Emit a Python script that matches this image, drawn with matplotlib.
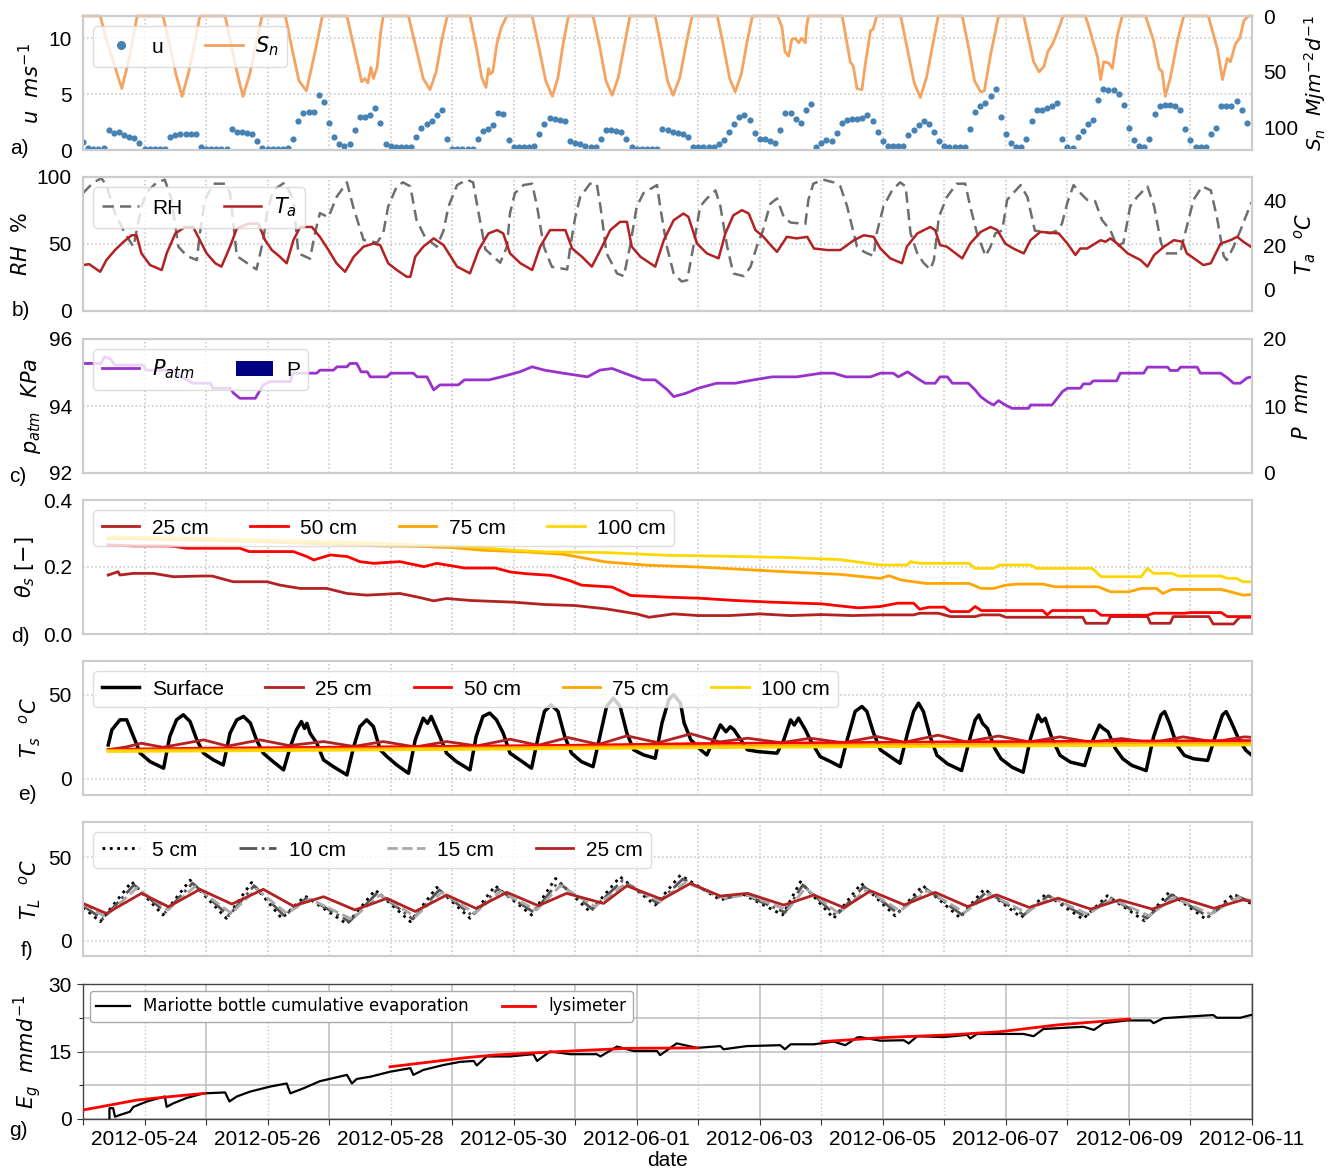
import numpy as np
import matplotlib
matplotlib.use("Agg")
import matplotlib.pyplot as plt
import matplotlib.dates as mdates
from matplotlib.lines import Line2D
from matplotlib.patches import Patch
from matplotlib.ticker import FixedLocator, MultipleLocator, FuncFormatter, FormatStrFormatter
from datetime import datetime

# ------------------------------------------------------------------
# Data: times are in days since 2012-05-23 00:00
# ------------------------------------------------------------------
START = mdates.date2num(datetime(2012, 5, 23))
N_DAYS = 19

# wind speed u [m/s], one value every 2 hours
u_2h = [
    0.7, 0.2, 0.1, 0.1, 0.2, 1.8, 1.5, 1.6, 1.3, 1.2, 1.1, 0.6,
    0.1, 0.1, 0.1, 0.1, 0.1, 1.2, 1.3, 1.4, 1.4, 1.4, 1.4, 0.3,
    0.1, 0.1, 0.1, 0.1, 0.1, 1.9, 1.6, 1.6, 1.5, 1.4, 0.8, 0.2,
    0.1, 0.1, 0.1, 0.1, 0.2, 1.0, 2.6, 3.3, 3.4, 3.4, 4.9, 4.3,
    2.4, 1.2, 0.5, 0.4, 0.5, 1.8, 3.0, 3.0, 3.1, 3.8, 2.4, 0.5,
    0.4, 0.3, 0.3, 0.3, 0.3, 1.2, 2.0, 2.3, 2.6, 3.1, 3.6, 1.0,
    0.1, 0.1, 0.1, 0.1, 0.1, 1.0, 1.7, 1.9, 2.2, 3.3, 3.2, 0.9,
    0.3, 0.3, 0.3, 0.3, 0.4, 1.4, 2.3, 2.9, 2.8, 2.7, 2.6, 0.8,
    0.6, 0.5, 0.4, 0.3, 0.3, 1.0, 1.8, 1.8, 1.7, 1.6, 1.0, 0.3,
    0.1, 0.1, 0.1, 0.1, 0.1, 1.9, 1.8, 1.6, 1.5, 1.4, 1.2, 0.3,
    0.3, 0.3, 0.3, 0.3, 0.5, 0.9, 1.6, 2.3, 3.0, 3.1, 2.7, 1.5,
    1.0, 1.0, 0.8, 0.6, 1.8, 3.3, 3.3, 2.8, 2.4, 3.6, 4.1, 0.3,
    0.6, 0.9, 0.8, 1.5, 2.4, 2.7, 2.8, 2.8, 2.9, 3.1, 2.6, 1.6,
    0.8, 0.4, 0.4, 0.4, 0.4, 1.3, 1.8, 2.2, 2.6, 2.3, 1.6, 0.8,
    0.4, 0.3, 0.3, 0.3, 0.3, 1.9, 3.4, 3.9, 4.2, 4.8, 5.5, 3.0,
    1.4, 0.6, 0.3, 0.3, 1.0, 2.6, 3.6, 3.6, 3.8, 3.9, 4.2, 1.0,
    0.3, 0.2, 1.2, 1.7, 2.3, 2.7, 4.5, 5.5, 5.4, 5.4, 5.0, 4.0,
    2.0, 0.9, 0.4, 0.3, 1.0, 3.2, 3.9, 4.0, 4.0, 3.9, 3.6, 1.9,
    0.9, 0.3, 0.3, 0.3, 1.4, 2.0, 3.9, 3.9, 3.9, 4.4, 3.6, 2.4,
]
U_STEP_H = 2

# net shortwave radiation S_n [MJ m-2 d-1]  (time, value)
s_n = [
    (0.00, 0), (0.28, 0), (0.39, 23), (0.50, 42), (0.63, 65), (0.75, 38), (0.88, 0),
    (1.30, 0), (1.41, 26), (1.51, 52), (1.61, 72), (1.71, 52), (1.81, 26), (1.90, 0),
    (2.31, 0), (2.41, 26), (2.51, 52), (2.60, 72), (2.71, 52), (2.81, 26), (2.91, 0),
    (3.29, 0), (3.40, 30), (3.51, 58), (3.63, 67), (3.72, 45), (3.81, 22), (3.89, 0),
    (4.29, 0), (4.42, 32), (4.53, 59), (4.58, 56), (4.63, 60), (4.68, 46), (4.72, 56),
    (4.78, 46), (4.84, 14), (4.88, 0),
    (5.29, 0), (5.41, 28), (5.53, 56), (5.64, 66), (5.74, 50), (5.83, 22), (5.92, 0),
    (6.29, 0), (6.40, 30), (6.48, 55), (6.55, 64), (6.59, 47), (6.62, 52), (6.66, 50),
    (6.73, 24), (6.80, 10), (6.89, 0),
    (7.30, 0), (7.41, 28), (7.52, 58), (7.63, 72), (7.72, 55), (7.80, 26), (7.89, 0),
    (8.29, 0), (8.40, 28), (8.50, 58), (8.60, 71), (8.70, 55), (8.80, 26), (8.89, 0),
    (9.30, 0), (9.40, 28), (9.50, 58), (9.59, 71), (9.70, 55), (9.80, 26), (9.90, 0),
    (10.31, 0), (10.41, 27), (10.51, 56), (10.60, 68), (10.70, 52), (10.79, 24), (10.88, 0),
    (11.29, 0), (11.36, 10), (11.41, 32), (11.47, 36), (11.52, 21), (11.58, 20), (11.63, 24),
    (11.68, 20), (11.74, 24), (11.76, 10), (11.79, 0),
    (12.34, 0), (12.47, 41), (12.52, 45), (12.58, 65), (12.66, 66), (12.71, 45), (12.80, 13),
    (12.84, 12), (12.90, 0),
    (13.29, 0), (13.40, 30), (13.51, 60), (13.61, 73), (13.71, 55), (13.81, 26), (13.90, 0),
    (14.29, 0), (14.40, 30), (14.49, 58), (14.59, 68), (14.65, 67), (14.75, 35), (14.88, 0),
    (15.29, 0), (15.36, 18), (15.45, 41), (15.54, 50), (15.62, 45), (15.68, 32), (15.76, 25),
    (15.84, 14), (15.93, 0),
    (16.29, 0), (16.34, 8), (16.49, 37), (16.54, 57), (16.59, 41), (16.67, 42), (16.73, 47),
    (16.81, 18), (16.89, 0),
    (17.27, 0), (17.40, 22), (17.49, 47), (17.54, 50), (17.59, 72), (17.67, 56), (17.79, 22),
    (17.89, 0),
    (18.29, 0), (18.44, 30), (18.52, 57), (18.60, 38), (18.65, 41), (18.73, 25), (18.80, 20),
    (18.87, 4), (18.94, 0), (19.00, 0),
]

# relative humidity RH [%]
rh = [
    (0.00, 88), (0.17, 96), (0.30, 99), (0.38, 94), (0.52, 73), (0.68, 58), (0.82, 48),
    (0.95, 78), (1.04, 89), (1.20, 96), (1.33, 98), (1.44, 83), (1.55, 48), (1.69, 41),
    (1.85, 38), (1.90, 58), (1.98, 83), (2.12, 95), (2.31, 95), (2.39, 88), (2.50, 41),
    (2.66, 36), (2.82, 31), (2.93, 53), (2.99, 73), (3.09, 90), (3.28, 96), (3.42, 83),
    (3.50, 43), (3.69, 39), (3.77, 58), (3.85, 73), (3.99, 70), (4.12, 85), (4.29, 96),
    (4.39, 78), (4.56, 53), (4.78, 51), (4.88, 58), (4.96, 78), (5.10, 93), (5.20, 96),
    (5.32, 93), (5.42, 68), (5.56, 55), (5.75, 48), (5.86, 60), (5.94, 78), (6.08, 94),
    (6.24, 98), (6.34, 96), (6.43, 73), (6.54, 46), (6.78, 36), (6.89, 48), (6.94, 73),
    (7.02, 88), (7.16, 94), (7.30, 95), (7.38, 78), (7.49, 48), (7.62, 33), (7.87, 31),
    (7.92, 48), (8.00, 70), (8.08, 85), (8.24, 95), (8.35, 95), (8.41, 78), (8.51, 43),
    (8.68, 28), (8.79, 26), (8.89, 48), (9.00, 78), (9.11, 88), (9.33, 94), (9.38, 78),
    (9.49, 48), (9.60, 28), (9.73, 22), (9.82, 23), (9.92, 48), (10.03, 78), (10.14, 84),
    (10.28, 90), (10.36, 78), (10.47, 48), (10.57, 28), (10.74, 26), (10.85, 33), (10.95, 48),
    (11.05, 60), (11.17, 80), (11.28, 84), (11.39, 70), (11.50, 66), (11.74, 65), (11.79, 83),
    (11.87, 95), (12.03, 98), (12.20, 96), (12.31, 93), (12.42, 78), (12.58, 48), (12.70, 44),
    (12.85, 41), (12.90, 58), (13.01, 78), (13.15, 90), (13.28, 96), (13.37, 93), (13.45, 58),
    (13.56, 43), (13.66, 36), (13.77, 31), (13.83, 38), (13.91, 70), (14.04, 85), (14.20, 95),
    (14.34, 95), (14.42, 78), (14.53, 58), (14.67, 41), (14.75, 48), (14.83, 58), (14.94, 60),
    (15.02, 83), (15.12, 88), (15.24, 94), (15.35, 85), (15.47, 60), (15.72, 58), (15.83, 60),
    (15.91, 65), (16.00, 81), (16.10, 94), (16.21, 88), (16.32, 83), (16.45, 82), (16.56, 68),
    (16.70, 60), (16.81, 48), (16.91, 51), (17.02, 78), (17.13, 85), (17.30, 93), (17.41, 78),
    (17.52, 51), (17.60, 43), (17.83, 43), (17.94, 63), (18.05, 83), (18.19, 93), (18.33, 90),
    (18.43, 70), (18.54, 41), (18.59, 38), (18.70, 48), (18.81, 60), (18.98, 80), (19.00, 81),
]

# air temperature T_a [degC]
t_air = [
    (0.00, 11.1), (0.10, 11.5), (0.18, 10.0), (0.28, 8.1), (0.38, 13.3), (0.52, 17.8),
    (0.66, 21.5), (0.79, 24.4), (0.87, 24.4), (0.95, 16.3), (1.09, 11.1), (1.28, 8.9),
    (1.36, 16.3), (1.50, 25.2), (1.66, 28.1), (1.79, 28.1), (1.90, 22.2), (2.01, 16.3),
    (2.15, 11.9), (2.25, 10.4), (2.39, 19.3), (2.50, 27.4), (2.69, 29.6), (2.85, 29.6),
    (2.96, 22.2), (3.07, 17.8), (3.20, 14.8), (3.31, 11.9), (3.42, 22.2), (3.53, 28.1),
    (3.72, 28.1), (3.85, 23.7), (3.99, 17.8), (4.12, 11.9), (4.26, 8.1), (4.40, 14.8),
    (4.56, 19.3), (4.72, 20.7), (4.83, 20.0), (4.96, 11.9), (5.10, 8.9), (5.26, 5.9),
    (5.32, 5.9), (5.40, 14.8), (5.53, 19.3), (5.70, 23.0), (5.86, 20.0), (6.08, 10.4),
    (6.29, 7.4), (6.43, 17.8), (6.59, 25.2), (6.73, 26.7), (6.83, 25.2), (6.94, 16.3),
    (7.11, 11.9), (7.30, 8.9), (7.43, 19.3), (7.59, 26.7), (7.84, 26.7), (7.95, 18.5),
    (8.11, 14.8), (8.27, 10.4), (8.41, 17.8), (8.57, 26.7), (8.73, 30.4), (8.84, 30.4),
    (8.92, 19.3), (9.06, 14.8), (9.30, 10.4), (9.44, 22.2), (9.60, 31.1), (9.76, 34.1),
    (9.84, 32.6), (9.98, 20.7), (10.14, 16.3), (10.33, 14.1), (10.44, 25.2), (10.57, 33.3),
    (10.71, 35.6), (10.82, 34.1), (10.93, 26.7), (11.06, 23.7), (11.20, 19.3), (11.28, 17.0),
    (11.44, 23.7), (11.60, 23.0), (11.77, 23.7), (11.88, 18.5), (12.10, 17.8), (12.31, 17.8),
    (12.53, 22.2), (12.69, 24.4), (12.85, 23.7), (12.96, 18.5), (13.12, 14.1), (13.31, 11.9),
    (13.39, 19.3), (13.56, 25.2), (13.77, 28.1), (13.85, 26.7), (13.93, 20.0), (14.04, 19.3),
    (14.29, 14.1), (14.42, 20.7), (14.59, 25.9), (14.75, 28.1), (14.86, 26.7), (14.99, 20.7),
    (15.12, 18.5), (15.29, 16.3), (15.40, 22.2), (15.56, 25.9), (15.86, 25.2), (16.00, 20.7),
    (16.13, 15.6), (16.21, 18.5), (16.32, 18.5), (16.54, 22.2), (16.62, 21.5), (16.70, 23.0),
    (16.81, 20.7), (16.98, 16.3), (17.19, 13.3), (17.30, 10.4), (17.41, 15.6), (17.57, 19.3),
    (17.73, 22.2), (17.87, 21.5), (17.94, 16.3), (18.02, 14.8), (18.21, 11.1), (18.33, 11.9),
    (18.49, 20.7), (18.65, 22.2), (18.76, 23.7), (18.86, 21.5), (18.98, 19.3), (19.00, 19.0),
]

# atmospheric pressure p_atm [kPa]
p_atm = [
    (0.00, 95.27), (0.29, 95.27), (0.35, 95.47), (0.45, 95.40), (0.52, 95.22), (0.98, 95.22),
    (1.02, 95.07), (1.47, 95.07), (1.60, 94.87), (1.79, 94.68), (2.07, 94.68), (2.11, 94.53),
    (2.39, 94.53), (2.45, 94.38), (2.55, 94.23), (2.80, 94.23), (2.93, 94.63), (3.04, 94.73),
    (3.37, 94.73), (3.41, 94.98), (3.80, 94.98), (3.85, 95.07), (4.07, 95.07), (4.13, 95.17),
    (4.29, 95.17), (4.34, 95.27), (4.45, 95.27), (4.52, 95.02), (4.62, 95.02), (4.67, 94.87),
    (4.94, 94.87), (5.00, 94.98), (5.37, 94.98), (5.43, 94.87), (5.59, 94.87), (5.70, 94.48),
    (5.80, 94.63), (6.10, 94.63), (6.20, 94.78), (6.60, 94.78), (6.80, 94.87), (7.10, 95.02),
    (7.30, 95.17), (7.50, 95.07), (7.80, 94.98), (8.20, 94.87), (8.40, 95.07), (8.60, 95.12),
    (8.80, 94.98), (9.10, 94.78), (9.30, 94.78), (9.50, 94.48), (9.60, 94.28), (9.80, 94.38),
    (10.00, 94.53), (10.30, 94.68), (10.60, 94.68), (10.90, 94.78), (11.20, 94.87),
    (11.60, 94.87), (12.00, 94.98), (12.20, 94.98), (12.40, 94.87), (12.80, 94.87),
    (12.96, 94.98), (13.17, 94.98), (13.25, 94.87), (13.40, 95.02), (13.60, 94.78),
    (13.69, 94.68), (13.85, 94.68), (13.93, 94.87), (14.05, 94.87), (14.13, 94.68),
    (14.39, 94.68), (14.50, 94.48), (14.59, 94.28), (14.70, 94.13), (14.80, 94.03),
    (14.88, 94.16), (14.99, 94.03), (15.10, 93.93), (15.37, 93.93), (15.40, 94.03),
    (15.75, 94.03), (15.92, 94.43), (16.00, 94.53), (16.21, 94.53), (16.26, 94.66),
    (16.37, 94.66), (16.42, 94.75), (16.80, 94.75), (16.86, 94.98), (17.24, 94.98),
    (17.30, 95.16), (17.63, 95.16), (17.67, 95.06), (17.79, 95.06), (17.84, 95.16),
    (18.11, 95.16), (18.16, 94.98), (18.49, 94.98), (18.60, 94.84), (18.70, 94.68),
    (18.81, 94.68), (18.92, 94.84), (19.00, 94.87),
]

# precipitation P [mm]
rain_day = [11.92]
rain_mm = [0.2]

# volumetric soil moisture theta_s [-]
theta_25 = [
    (0.41, 0.176), (0.57, 0.186), (0.60, 0.176), (0.82, 0.181), (1.14, 0.181), (1.47, 0.171),
    (1.90, 0.173), (2.10, 0.173), (2.44, 0.156), (2.99, 0.156), (3.20, 0.146), (3.53, 0.136),
    (3.96, 0.136), (4.29, 0.121), (4.61, 0.116), (5.15, 0.121), (5.42, 0.111), (5.70, 0.099),
    (5.91, 0.106), (6.30, 0.100), (7.00, 0.095), (7.50, 0.088), (8.00, 0.085), (8.50, 0.075),
    (9.00, 0.060), (9.20, 0.050), (9.60, 0.060), (10.00, 0.055), (10.50, 0.055), (11.00, 0.060),
    (11.50, 0.055), (12.00, 0.058), (12.50, 0.055), (12.96, 0.057), (13.50, 0.057),
    (13.60, 0.062), (13.90, 0.062), (14.10, 0.052), (14.50, 0.052), (14.60, 0.057),
    (14.90, 0.057), (15.00, 0.050), (16.25, 0.050), (16.30, 0.032), (16.65, 0.032),
    (16.70, 0.052), (17.30, 0.052), (17.35, 0.032), (17.67, 0.032), (17.72, 0.052),
    (18.30, 0.052), (18.37, 0.030), (18.70, 0.030), (18.80, 0.050), (19.00, 0.050),
]
theta_50 = [
    (0.41, 0.266), (0.82, 0.263), (1.36, 0.263), (1.50, 0.261), (1.68, 0.256), (2.55, 0.256),
    (2.70, 0.246), (3.42, 0.246), (3.64, 0.231), (3.75, 0.221), (4.02, 0.236), (4.30, 0.231),
    (4.50, 0.216), (4.72, 0.211), (5.15, 0.216), (5.54, 0.201), (5.75, 0.211), (5.91, 0.206),
    (6.20, 0.197), (6.70, 0.197), (6.95, 0.185), (7.20, 0.180), (7.60, 0.175), (7.90, 0.160),
    (8.10, 0.146), (8.60, 0.140), (8.90, 0.115), (9.50, 0.110), (10.00, 0.107), (10.60, 0.100),
    (11.20, 0.095), (12.00, 0.090), (12.60, 0.078), (12.96, 0.082), (13.24, 0.092),
    (13.50, 0.092), (13.60, 0.074), (13.75, 0.080), (14.00, 0.080), (14.10, 0.067),
    (14.40, 0.067), (14.50, 0.082), (14.60, 0.070), (15.60, 0.070), (15.67, 0.057),
    (15.75, 0.070), (16.45, 0.070), (16.55, 0.056), (17.30, 0.056), (17.40, 0.062),
    (17.90, 0.062), (18.00, 0.064), (18.50, 0.064), (18.60, 0.052), (19.00, 0.052),
]
theta_75 = [
    (0.41, 0.285), (1.00, 0.284), (2.00, 0.280), (3.00, 0.275), (4.00, 0.268), (4.80, 0.263),
    (5.40, 0.262), (6.00, 0.258), (6.50, 0.250), (7.20, 0.245), (7.80, 0.238), (8.50, 0.215),
    (9.20, 0.205), (10.00, 0.200), (10.80, 0.192), (11.50, 0.185), (12.30, 0.178),
    (12.96, 0.166), (13.10, 0.174), (13.30, 0.161), (13.70, 0.151), (14.40, 0.151),
    (14.60, 0.136), (14.80, 0.136), (15.00, 0.146), (15.20, 0.149), (15.60, 0.149),
    (15.80, 0.141), (16.50, 0.141), (16.70, 0.126), (17.00, 0.126), (17.20, 0.136),
    (17.45, 0.136), (17.55, 0.121), (17.70, 0.133), (18.50, 0.133), (18.65, 0.126),
    (18.85, 0.116), (19.00, 0.118),
]
theta_100 = [
    (0.41, 0.290), (1.00, 0.288), (2.00, 0.285), (3.00, 0.280), (4.00, 0.275), (5.00, 0.270),
    (5.50, 0.265), (6.30, 0.260), (7.00, 0.250), (7.50, 0.245), (8.50, 0.243), (9.50, 0.235),
    (10.50, 0.232), (11.50, 0.228), (12.30, 0.222), (12.96, 0.206), (13.40, 0.206),
    (13.45, 0.216), (13.60, 0.211), (14.40, 0.211), (14.50, 0.196), (14.80, 0.196),
    (14.90, 0.206), (15.40, 0.206), (15.50, 0.196), (16.40, 0.196), (16.55, 0.171),
    (17.20, 0.171), (17.30, 0.196), (17.40, 0.181), (17.70, 0.181), (17.80, 0.173),
    (18.50, 0.173), (18.60, 0.166), (18.75, 0.166), (18.85, 0.156), (19.00, 0.156),
]

# soil temperature T_s [degC]
ts_surface = [
    (0.41, 20.2), (0.47, 29.2), (0.60, 35.1), (0.71, 35.1), (0.82, 25.2), (0.93, 15.3),
    (1.09, 10.3), (1.31, 6.4), (1.41, 25.2), (1.52, 35.1), (1.63, 38.1), (1.74, 34.1),
    (1.85, 23.2), (1.96, 15.3), (2.12, 11.3), (2.28, 8.3), (2.39, 27.2), (2.50, 35.1),
    (2.61, 37.1), (2.72, 33.2), (2.82, 23.2), (2.93, 15.3), (3.09, 10.3), (3.26, 5.4),
    (3.37, 19.2), (3.47, 29.2), (3.55, 34.1), (3.60, 30.0), (3.64, 33.0), (3.69, 27.2),
    (3.80, 21.2), (3.91, 11.3), (4.07, 7.3), (4.29, 2.4), (4.40, 19.2), (4.50, 31.1),
    (4.61, 35.1), (4.72, 31.1), (4.83, 17.3), (4.94, 13.3), (5.10, 8.3), (5.29, 3.4),
    (5.40, 23.2), (5.53, 36.1), (5.60, 33.0), (5.66, 37.1), (5.80, 25.2), (5.91, 15.3),
    (6.07, 10.3), (6.29, 5.4), (6.39, 25.2), (6.50, 37.1), (6.61, 39.1), (6.72, 35.1),
    (6.83, 27.2), (6.94, 15.3), (7.10, 11.3), (7.29, 6.4), (7.40, 25.2), (7.50, 40.1),
    (7.61, 44.0), (7.72, 40.1), (7.83, 25.2), (7.94, 15.3), (8.10, 10.3), (8.29, 7.3),
    (8.40, 25.2), (8.51, 43.0), (8.62, 48.0), (8.73, 43.0), (8.84, 27.2), (8.95, 17.3),
    (9.11, 14.3), (9.30, 12.3), (9.41, 33.2), (9.52, 47.0), (9.60, 50.0), (9.71, 45.1),
    (9.77, 33.2), (9.88, 23.2), (10.04, 17.3), (10.14, 14.3), (10.25, 23.2), (10.36, 32.1),
    (10.45, 28.0), (10.52, 31.0), (10.58, 29.2), (10.69, 23.2), (10.80, 17.3), (10.96, 16.3),
    (11.28, 15.3), (11.39, 23.2), (11.50, 35.1), (11.56, 32.0), (11.63, 36.1), (11.74, 29.2),
    (11.82, 23.2), (11.98, 13.3), (12.15, 10.3), (12.31, 7.3), (12.42, 23.2), (12.55, 40.1),
    (12.66, 43.0), (12.74, 40.1), (12.85, 27.2), (12.96, 17.3), (13.12, 13.3), (13.28, 9.3),
    (13.40, 27.0), (13.50, 40.0), (13.58, 45.0), (13.66, 40.0), (13.77, 25.0), (13.88, 14.0),
    (14.05, 9.0), (14.28, 5.0), (14.40, 22.0), (14.50, 35.0), (14.56, 38.0), (14.62, 33.0),
    (14.70, 30.0), (14.82, 18.0), (14.92, 12.0), (15.10, 7.0), (15.28, 4.0), (15.40, 24.0),
    (15.52, 38.0), (15.58, 34.0), (15.64, 36.0), (15.75, 24.0), (15.88, 14.0), (16.05, 10.0),
    (16.28, 8.0), (16.40, 22.0), (16.52, 32.0), (16.58, 30.0), (16.66, 28.0), (16.78, 18.0),
    (16.90, 12.0), (17.05, 8.0), (17.28, 5.0), (17.40, 25.0), (17.52, 38.0), (17.58, 40.0),
    (17.66, 33.0), (17.78, 20.0), (17.90, 14.0), (18.05, 12.0), (18.28, 11.0), (18.40, 25.0),
    (18.52, 38.0), (18.58, 40.0), (18.66, 34.0), (18.78, 24.0), (18.90, 17.0), (19.00, 14.0),
]
ts_25 = [
    (0.41, 17.3), (0.70, 19.0), (0.95, 21.2), (1.30, 18.8), (1.96, 23.2), (2.35, 19.5),
    (2.88, 23.2), (3.35, 19.8), (3.91, 22.2), (4.40, 19.3), (4.88, 22.2), (5.40, 19.0),
    (5.91, 22.2), (6.40, 19.6), (6.94, 23.6), (7.40, 20.0), (7.88, 24.6), (8.38, 20.5),
    (8.84, 25.6), (9.35, 21.5), (9.88, 26.8), (10.35, 22.0), (10.80, 24.2), (11.35, 21.5),
    (11.82, 24.2), (12.35, 21.5), (12.90, 25.2), (13.35, 21.8), (13.90, 26.0), (14.35, 22.0),
    (14.88, 25.5), (15.38, 22.0), (15.88, 25.0), (16.38, 21.8), (16.88, 24.0), (17.38, 21.5),
    (17.88, 25.0), (18.38, 22.0), (18.88, 25.0), (19.00, 24.7),
]
ts_50 = [(0.41, 17.6), (2.0, 18.3), (4.0, 18.8), (6.0, 19.4), (8.0, 20.0), (10.0, 21.0),
         (12.0, 21.5), (14.0, 22.0), (16.0, 22.3), (19.0, 22.8)]
ts_75 = [(0.41, 17.0), (3.0, 17.5), (6.0, 18.3), (9.0, 19.2), (12.0, 20.0), (15.0, 20.6),
         (19.0, 21.2)]
ts_100 = [(0.41, 16.3), (3.0, 16.8), (6.0, 17.5), (9.0, 18.3), (12.0, 19.0), (15.0, 19.6),
          (19.0, 20.2)]

# lysimeter temperature T_L [degC]
tl_5 = [
    (0.00, 20.0), (0.28, 11.5), (0.79, 35.3), (1.30, 15.5), (1.74, 36.3), (2.33, 13.5),
    (2.74, 34.9), (3.23, 13.5), (3.61, 26.8), (4.29, 10.1), (4.75, 30.4), (5.32, 11.5),
    (5.75, 32.0), (6.29, 13.5), (6.70, 32.9), (7.29, 15.5), (7.68, 37.3), (8.24, 17.4),
    (8.73, 38.3), (9.30, 21.4), (9.71, 39.3), (10.36, 24.4), (10.70, 28.4), (11.37, 15.5),
    (11.66, 35.3), (12.20, 13.5), (12.65, 34.3), (13.20, 15.0), (13.65, 33.0), (14.25, 14.0),
    (14.65, 31.0), (15.25, 14.0), (15.65, 28.0), (16.25, 13.0), (16.65, 27.0), (17.25, 12.0),
    (17.65, 29.0), (18.25, 13.0), (18.70, 28.0), (19.00, 22.0),
]
tl_10 = [
    (0.00, 21.0), (0.32, 13.0), (0.83, 33.5), (1.34, 17.0), (1.78, 34.5), (2.37, 15.0),
    (2.78, 33.0), (3.27, 15.0), (3.65, 26.0), (4.33, 11.5), (4.79, 29.0), (5.36, 13.0),
    (5.79, 30.5), (6.33, 15.0), (6.74, 31.0), (7.33, 17.0), (7.72, 35.0), (8.28, 19.0),
    (8.77, 36.0), (9.34, 22.5), (9.75, 37.0), (10.40, 25.0), (10.74, 28.0), (11.41, 17.0),
    (11.70, 33.5), (12.24, 15.0), (12.69, 32.5), (13.24, 16.5), (13.69, 31.5), (14.29, 15.5),
    (14.69, 29.5), (15.29, 15.5), (15.69, 27.0), (16.29, 14.5), (16.69, 26.0), (17.29, 13.5),
    (17.69, 27.5), (18.29, 14.5), (18.74, 27.0), (19.00, 23.0),
]
tl_15 = [
    (0.00, 22.0), (0.36, 14.5), (0.87, 31.5), (1.38, 18.5), (1.82, 32.5), (2.41, 16.5),
    (2.82, 31.0), (3.31, 16.5), (3.69, 25.0), (4.37, 13.0), (4.83, 27.5), (5.40, 14.5),
    (5.83, 29.0), (6.37, 16.5), (6.78, 29.5), (7.37, 18.5), (7.76, 33.0), (8.32, 20.5),
    (8.81, 34.0), (9.38, 23.5), (9.79, 35.0), (10.44, 25.5), (10.78, 27.5), (11.45, 18.5),
    (11.74, 31.5), (12.28, 16.5), (12.73, 30.5), (13.28, 18.0), (13.73, 30.0), (14.33, 17.0),
    (14.73, 28.0), (15.33, 17.0), (15.73, 26.0), (16.33, 16.0), (16.73, 25.0), (17.33, 15.0),
    (17.73, 26.0), (18.33, 16.0), (18.78, 26.0), (19.00, 24.0),
]
tl_25 = [
    (0.00, 22.4), (0.38, 16.4), (0.95, 28.4), (1.39, 20.4), (1.90, 30.8), (2.42, 22.0),
    (2.93, 30.8), (3.42, 20.8), (3.91, 26.4), (4.42, 18.5), (4.94, 25.4), (5.40, 17.6),
    (5.91, 27.4), (6.39, 19.4), (6.89, 29.0), (7.40, 21.0), (7.86, 28.4), (8.46, 22.4),
    (8.84, 32.9), (9.41, 24.8), (9.87, 34.3), (10.36, 26.8), (10.80, 28.4), (11.39, 21.4),
    (11.88, 27.4), (12.37, 19.8), (12.80, 29.9), (13.35, 21.5), (13.85, 29.0), (14.38, 20.5),
    (14.85, 27.5), (15.38, 20.0), (15.85, 25.5), (16.38, 19.0), (16.85, 24.5), (17.38, 19.0),
    (17.85, 25.5), (18.38, 19.5), (18.85, 24.5), (19.00, 23.5),
]

# cumulative evaporation [mm]
mariotte = [
    (0.43, 0.15), (0.43, 2.4), (0.49, 2.4), (0.52, 0.5), (0.60, 0.9), (0.76, 1.6), (0.82, 2.7),
    (1.04, 3.9), (1.25, 4.7), (1.33, 5.0), (1.36, 2.7), (1.47, 3.5), (1.69, 4.7), (1.96, 5.7),
    (2.31, 5.9), (2.38, 3.9), (2.50, 5.0), (2.72, 6.1), (3.04, 7.2), (3.31, 7.9), (3.37, 5.7),
    (3.58, 6.8), (3.85, 8.4), (4.29, 9.8), (4.37, 7.9), (4.45, 8.9), (4.67, 9.4), (4.99, 10.5),
    (5.32, 11.3), (5.37, 9.8), (5.53, 10.9), (5.86, 12.0), (6.13, 12.7), (6.35, 12.9),
    (6.40, 11.9), (6.56, 13.9), (6.94, 13.9), (7.32, 14.4), (7.38, 12.9), (7.59, 15.0),
    (7.92, 14.4), (8.35, 14.4), (8.41, 13.9), (8.68, 16.1), (8.95, 15.1), (9.33, 15.1),
    (9.38, 14.2), (9.65, 16.8), (9.98, 15.8), (10.36, 16.2), (10.41, 15.5), (10.79, 16.2),
    (11.33, 16.4), (11.41, 15.5), (11.50, 16.6), (11.88, 16.6), (12.20, 17.2), (12.39, 16.4),
    (12.58, 18.1), (12.63, 18.2), (12.96, 17.4), (13.34, 17.5), (13.42, 16.8), (13.56, 18.4),
    (13.99, 18.2), (14.37, 18.7), (14.42, 17.9), (14.53, 18.9), (15.29, 18.9), (15.45, 18.4),
    (15.61, 20.0), (16.26, 20.5), (16.43, 19.8), (16.59, 21.3), (16.97, 21.9), (17.35, 21.9),
    (17.40, 21.3), (17.56, 22.4), (17.89, 22.7), (18.37, 23.1), (18.43, 22.5), (18.81, 22.5),
    (18.98, 23.1), (19.00, 23.1),
]
lysimeter_1 = [(0.00, 2.0), (0.44, 3.1), (0.87, 4.2), (1.36, 4.9), (1.98, 5.7)]
lysimeter_2 = [(4.99, 11.6), (5.60, 12.6), (6.20, 13.6), (6.67, 14.2), (7.76, 15.0),
               (8.84, 15.7), (9.99, 15.8)]
lysimeter_3 = [(12.01, 17.2), (12.47, 17.6), (13.01, 18.1), (14.10, 18.7), (14.91, 19.4),
               (15.83, 20.9), (17.01, 22.2)]

panel_letters = ["a)", "b)", "c)", "d)", "e)", "f)", "g)"]


# ------------------------------------------------------------------
# Helpers
# ------------------------------------------------------------------
def series(pairs):
    arr = np.asarray(pairs, dtype=float)
    return START + arr[:, 0], arr[:, 1]


plt.rcParams.update({
    "font.family": ["Liberation Sans", "DejaVu Sans"],
    "font.size": 15,
    "mathtext.fontset": "dejavusans",
})

FS = 15
SPINE = "#cccccc"
GRID = "#c4c4c4"

fig = plt.figure(figsize=(13.3, 11.73), dpi=100)
FW, FH = 1330.0, 1173.0


def make_axes(top_px, h_px=134.0):
    return fig.add_axes([83 / FW, 1 - (top_px + h_px) / FH, 1169 / FW, h_px / FH])


def style(ax, twin=False):
    ax.set_facecolor("none" if twin else "white")
    for s in ax.spines.values():
        s.set_color(SPINE)
        s.set_linewidth(1.5)
    ax.tick_params(axis="both", length=0, pad=8, labelsize=FS)
    ax.set_xlim(START, START + N_DAYS)
    ax.xaxis.set_major_locator(mdates.DayLocator())
    ax.tick_params(axis="x", labelbottom=False)
    if not twin:
        ax.grid(True, color=GRID, linestyle=":", linewidth=1.1)
        ax.set_axisbelow(True)
    else:
        ax.grid(False)


def legend(ax, handles, labels, ncol):
    lg = ax.legend(handles, labels, ncol=ncol, loc="upper left", fontsize=FS,
                   framealpha=0.8, edgecolor="#d5d5d5", fancybox=True,
                   handlelength=1.8, handletextpad=0.6, columnspacing=2.0,
                   borderaxespad=0.5, scatterpoints=1)
    lg.get_frame().set_linewidth(1.0)
    return lg


tops = [16, 177, 339, 500, 661, 822]
ax_a, ax_b, ax_c, ax_d, ax_e, ax_f = [make_axes(t) for t in tops]
ax_g = make_axes(984, 135)

for ax in (ax_a, ax_b, ax_c, ax_d, ax_e, ax_f):
    style(ax)

# ---------------- a) wind speed and net radiation ----------------
u_days = START + np.arange(len(u_2h)) * U_STEP_H / 24.0
ax_a.scatter(u_days, u_2h, s=20, color="steelblue", linewidths=0, zorder=3)
ax_a.set_ylim(0, 12)
ax_a.yaxis.set_major_locator(FixedLocator([0, 5, 10]))
ax_a.set_ylabel(r"$u\ \ ms^{-1}$", fontsize=FS)

ax_a2 = ax_a.twinx()
style(ax_a2, twin=True)
x, y = series(s_n)
ax_a2.plot(x, y, color="sandybrown", lw=2.0, clip_on=False)
ax_a2.set_ylim(120, 0)
ax_a2.yaxis.set_major_locator(FixedLocator([0, 50, 100]))
ax_a2.set_ylabel(r"$S_n\ \ Mjm^{-2}d^{-1}$", fontsize=14.5)
ax_a2.yaxis.set_label_coords(1.043, 0.5)
legend(ax_a2,
       [Line2D([], [], ls="", marker="o", ms=5.5, color="steelblue"),
        Line2D([], [], color="sandybrown", lw=2.0)],
       ["u", r"$S_n$"], 2)

# ---------------- b) relative humidity and air temperature ----------------
x, y = series(rh)
ax_b.plot(x, y, color="#6e6e6e", lw=1.8, ls=(0, (4.5, 2.5)))
ax_b.set_ylim(0, 100)
ax_b.yaxis.set_major_locator(FixedLocator([0, 50, 100]))
ax_b.set_ylabel(r"$RH\ \ \%$", fontsize=FS)

ax_b2 = ax_b.twinx()
style(ax_b2, twin=True)
x, y = series(t_air)
ax_b2.plot(x, y, color="firebrick", lw=1.8)
ax_b2.set_ylim(-9.4, 50.4)
ax_b2.yaxis.set_major_locator(FixedLocator([0, 20, 40]))
ax_b2.set_ylabel(r"$T_a\ \ ^oC$", fontsize=FS)
legend(ax_b2,
       [Line2D([], [], color="#6e6e6e", lw=1.8, ls=(0, (4.5, 2.5))),
        Line2D([], [], color="firebrick", lw=1.8)],
       ["RH", r"$T_a$"], 2)

# ---------------- c) atmospheric pressure and precipitation ----------------
x, y = series(p_atm)
ax_c.plot(x, y, color="darkorchid", lw=2.0)
ax_c.set_ylim(92, 96)
ax_c.yaxis.set_major_locator(FixedLocator([92, 94, 96]))
ax_c.set_ylabel(r"$p_{atm}\ \ KPa$", fontsize=FS)

ax_c2 = ax_c.twinx()
style(ax_c2, twin=True)
ax_c2.bar(START + np.asarray(rain_day), rain_mm, width=0.3, color="navy")
ax_c2.set_ylim(0, 20)
ax_c2.yaxis.set_major_locator(FixedLocator([0, 10, 20]))
ax_c2.set_ylabel(r"$P\ \ mm$", fontsize=FS)
legend(ax_c2,
       [Line2D([], [], color="darkorchid", lw=2.0), Patch(facecolor="navy")],
       [r"$P_{atm}$", "P"], 2)

# ---------------- d) soil moisture ----------------
depth_colors = ["firebrick", "red", "orange", "gold"]
depth_labels = ["25 cm", "50 cm", "75 cm", "100 cm"]
for data, c in zip([theta_25, theta_50, theta_75, theta_100], depth_colors):
    x, y = series(data)
    ax_d.plot(x, y, color=c, lw=2.0)
ax_d.set_ylim(0, 0.4)
ax_d.yaxis.set_major_locator(FixedLocator([0.0, 0.2, 0.4]))
ax_d.yaxis.set_major_formatter(FormatStrFormatter("%.1f"))
ax_d.set_ylabel(r"$\theta_s\ [-]$", fontsize=FS)
legend(ax_d, [Line2D([], [], color=c, lw=2.0) for c in depth_colors], depth_labels, 4)

# ---------------- e) soil temperature ----------------
x, y = series(ts_surface)
ax_e.plot(x, y, color="black", lw=2.5)
for data, c in zip([ts_25, ts_50, ts_75, ts_100], depth_colors):
    x, y = series(data)
    ax_e.plot(x, y, color=c, lw=2.0)
ax_e.set_ylim(-9.5, 70)
ax_e.yaxis.set_major_locator(FixedLocator([0, 50]))
ax_e.set_ylabel(r"$T_s\ \ ^oC$", fontsize=FS)
legend(ax_e,
       [Line2D([], [], color="black", lw=2.5)] +
       [Line2D([], [], color=c, lw=2.0) for c in depth_colors],
       ["Surface"] + depth_labels, 5)

# ---------------- f) lysimeter temperature ----------------
tl_styles = [
    (tl_5, dict(color="black", ls=":", lw=2.0), "5 cm"),
    (tl_10, dict(color="#555555", ls="-.", lw=2.0), "10 cm"),
    (tl_15, dict(color="#a9a9a9", ls="--", lw=2.0), "15 cm"),
    (tl_25, dict(color="firebrick", ls="-", lw=2.0), "25 cm"),
]
for data, kw, _ in tl_styles:
    x, y = series(data)
    ax_f.plot(x, y, **kw)
ax_f.set_ylim(-9, 71)
ax_f.yaxis.set_major_locator(FixedLocator([0, 50]))
ax_f.set_ylabel(r"$T_L\ \ ^oC$", fontsize=FS)
legend(ax_f, [Line2D([], [], **kw) for _, kw, _ in tl_styles],
       [lab for _, _, lab in tl_styles], 4)

# ---------------- g) cumulative evaporation ----------------
x, y = series(mariotte)
ax_g.plot(x, y, color="black", lw=1.6, zorder=3)
for seg in (lysimeter_1, lysimeter_2, lysimeter_3):
    x, y = series(seg)
    ax_g.plot(x, y, color="red", lw=2.0, zorder=4)

ax_g.set_xlim(START, START + N_DAYS)
ax_g.set_ylim(0, 30)
ax_g.yaxis.set_major_locator(FixedLocator([0, 15, 30]))
ax_g.yaxis.set_minor_locator(MultipleLocator(7.5))
ax_g.xaxis.set_major_locator(mdates.DayLocator(bymonthday=range(1, 32, 2)))
ax_g.xaxis.set_minor_locator(mdates.DayLocator())


def every_other_day(val, pos=None):
    k = int(round(val - START))
    if k % 2 == 1:
        return mdates.num2date(val).strftime("%Y-%m-%d")
    return ""


ax_g.xaxis.set_major_formatter(FuncFormatter(every_other_day))
ax_g.xaxis.set_minor_formatter(FuncFormatter(every_other_day))
ax_g.tick_params(axis="both", which="both", labelsize=15, length=4, width=0.8,
                 color="#333333", pad=4)
ax_g.tick_params(axis="y", which="minor", length=3)
for s in ax_g.spines.values():
    s.set_color("#444444")
    s.set_linewidth(1.0)
ax_g.grid(True, which="major", axis="both", color="#bdbdbd", lw=1.1, ls="-")
ax_g.grid(True, which="minor", axis="y", color="#bdbdbd", lw=1.1, ls="-")
ax_g.grid(True, which="minor", axis="x", color="#c8c8c8", lw=1.0, ls=":")
ax_g.set_axisbelow(True)
ax_g.set_ylabel(r"$E_g\ \ mmd^{-1}$", fontsize=FS)
ax_g.set_xlabel("date", fontsize=15, labelpad=1)
lg = ax_g.legend(handles=[Line2D([], [], color="black", lw=1.6),
                          Line2D([], [], color="red", lw=2.0)],
                 labels=["Mariotte bottle cumulative evaporation", "lysimeter"],
                 loc="upper left", ncol=2,
                 prop={"family": "DejaVu Sans", "size": 12},
                 framealpha=1.0, edgecolor="#aaaaaa", fancybox=True,
                 handlelength=2.0, columnspacing=2.0, borderaxespad=0.4)

# ---------------- panel letters ----------------
letter_pos = [(19, 149), (21, 311), (18, 477), (20, 636), (27, 794), (27, 950), (18, 1130)]
for lab, (px, py) in zip(panel_letters, letter_pos):
    fig.text(px / FW, 1 - py / FH, lab, fontsize=FS, ha="center", va="center")

fig.savefig("out.png", dpi=100)
